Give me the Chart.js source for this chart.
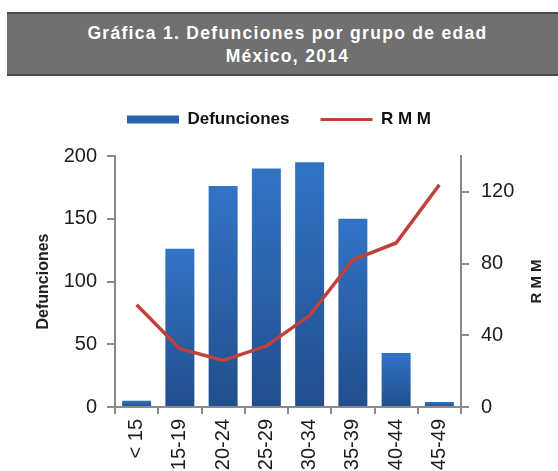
<!DOCTYPE html>
<html>
<head>
<meta charset="utf-8">
<script src="https://cdn.jsdelivr.net/npm/chart.js@4.4.1/dist/chart.umd.min.js"></script>
<style>
    html, body { margin: 0; padding: 0; background: #fff; overflow: hidden; width: 558px; height: 471px; }
    .banner {
        position: absolute; left: 7px; top: 12px; width: 551px; height: 64px;
        background: #707070; border-top: 2px solid #4a4a4a; border-bottom: 2px solid #4a4a4a;
        box-sizing: border-box; color: #fff; text-align: center;
        font-family: "Liberation Sans", Arial, sans-serif; font-weight: bold; font-size: 17.5px;
        letter-spacing: 1.3px; line-height: 23px; padding-top: 8px; padding-left: 10px;
    }
    .chart-box { position: absolute; left: 0; top: 80px; width: 558px; height: 440px; }
</style>
</head>
<body>
<div class="banner">Gráfica 1. Defunciones por grupo de edad<br>México, 2014</div>
<div class="chart-box"><canvas id="defuncionesChart"></canvas></div>
<script>
const categories = ['< 15', '15-19', '20-24', '25-29', '30-34', '35-39', '40-44', '45-49'];
const defunciones = [5, 126, 176, 190, 195, 150, 43, 4];
const rmm = [57, 32.5, 26, 34, 51, 82, 91.5, 124];
const leftMax = 200, leftStep = 50;
const rightMax = 140, rightStep = 40, rightLastTick = 120;

document.addEventListener('DOMContentLoaded', function () {
    const ctx = document.getElementById('defuncionesChart').getContext('2d');
    const fontFamily = '"Liberation Sans", Arial, sans-serif';
    const axisGray = '#8a8a8a';
    const barBlue = '#2a62ad';
    const lineRed = '#c0403a';

    // keep the legend band tall so the plot starts where the original one does
    const legendHeight = {
        id: 'legendHeight',
        beforeLayout(chart) {
            if (chart.legend && !chart.legend._patched) {
                const fit = chart.legend.fit;
                chart.legend.fit = function () {
                    fit.call(this);
                    this.height = 76;
                };
                chart.legend._patched = true;
            }
        }
    };

    // right axis title reads bottom-to-top like the left one
    const rightTitle = {
        id: 'rightTitle',
        afterDraw(chart) {
            const c = chart.ctx;
            const area = chart.chartArea;
            c.save();
            c.translate(537, (area.top + area.bottom) / 2);
            c.rotate(-Math.PI / 2);
            c.font = 'bold 15px ' + fontFamily;
            c.fillStyle = '#222';
            c.textAlign = 'center';
            c.textBaseline = 'middle';
            c.fillText('R M M', 0, 0);
            c.restore();
        }
    };

    new Chart(ctx, {
        type: 'bar',
        data: {
            labels: categories,
            datasets: [{
                label: 'Defunciones',
                data: defunciones,
                yAxisID: 'y',
                order: 1,
                barPercentage: 0.67,
                categoryPercentage: 1,
                backgroundColor: function (c) {
                    const chart = c.chart;
                    const area = chart.chartArea;
                    if (!area || c.raw === undefined) return barBlue;
                    const top = chart.scales.y.getPixelForValue(c.raw);
                    const g = chart.ctx.createLinearGradient(0, top, 0, area.bottom);
                    g.addColorStop(0, '#3273c6');
                    g.addColorStop(1, '#214e8c');
                    return g;
                }
            }, {
                type: 'line',
                label: 'R M M',
                data: rmm,
                yAxisID: 'y1',
                order: 0,
                borderColor: lineRed,
                backgroundColor: lineRed,
                borderWidth: 3.5,
                pointRadius: 0,
                tension: 0
            }]
        },
        options: {
            responsive: true,
            maintainAspectRatio: false,
            animation: false,
            layout: { padding: 0 },
            plugins: {
                tooltip: { enabled: false },
                legend: {
                    position: 'top',
                    labels: {
                        usePointStyle: true,
                        pointStyleWidth: 52,
                        boxHeight: 8,
                        padding: 31,
                        color: '#111',
                        font: { family: fontFamily, size: 17, weight: 'bold' },
                        sort: function (a, b) { return a.datasetIndex - b.datasetIndex; },
                        generateLabels: function (chart) {
                            const items = Chart.defaults.plugins.legend.labels.generateLabels(chart);
                            items.forEach(function (item) {
                                if (item.datasetIndex === 0) {
                                    item.pointStyle = 'rect';
                                    item.fillStyle = barBlue;
                                    item.strokeStyle = barBlue;
                                    item.lineWidth = 0;
                                } else {
                                    item.pointStyle = 'line';
                                    item.strokeStyle = lineRed;
                                    item.lineWidth = 3;
                                }
                            });
                            return items;
                        }
                    }
                }
            },
            scales: {
                x: {
                    grid: { offset: true, drawOnChartArea: false, drawTicks: true, tickLength: 7, color: axisGray, lineWidth: 2 },
                    border: { color: axisGray, width: 2 },
                    ticks: {
                        autoSkip: false, minRotation: 90, maxRotation: 90, padding: 5,
                        color: '#1c1c1c', font: { family: fontFamily, size: 20 }
                    },
                    afterFit: function (s) { s.height = 113; }
                },
                y: {
                    position: 'left',
                    min: 0, max: leftMax,
                    grid: { drawOnChartArea: false, drawTicks: true, tickLength: 8, color: axisGray, lineWidth: 2 },
                    border: { color: axisGray, width: 2 },
                    ticks: { stepSize: leftStep, padding: 10, color: '#1c1c1c', font: { family: fontFamily, size: 20 } },
                    title: {
                        display: true, text: 'Defunciones', color: '#222',
                        font: { family: fontFamily, size: 16, weight: 'bold' },
                        padding: { top: 34, bottom: 0 }
                    },
                    afterFit: function (s) { s.width = 115; }
                },
                y1: {
                    position: 'right',
                    min: 0, max: rightMax,
                    grid: { drawOnChartArea: false, drawTicks: true, tickLength: 8, color: axisGray, lineWidth: 2 },
                    border: { color: axisGray, width: 2 },
                    ticks: { stepSize: rightStep, padding: 12, color: '#1c1c1c', font: { family: fontFamily, size: 20 } },
                    afterBuildTicks: function (s) {
                        s.ticks = s.ticks.filter(function (t) { return t.value <= rightLastTick; });
                    },
                    afterFit: function (s) { s.width = 97; }
                }
            }
        },
        plugins: [legendHeight, rightTitle]
    });
});
</script>
</body>
</html>
